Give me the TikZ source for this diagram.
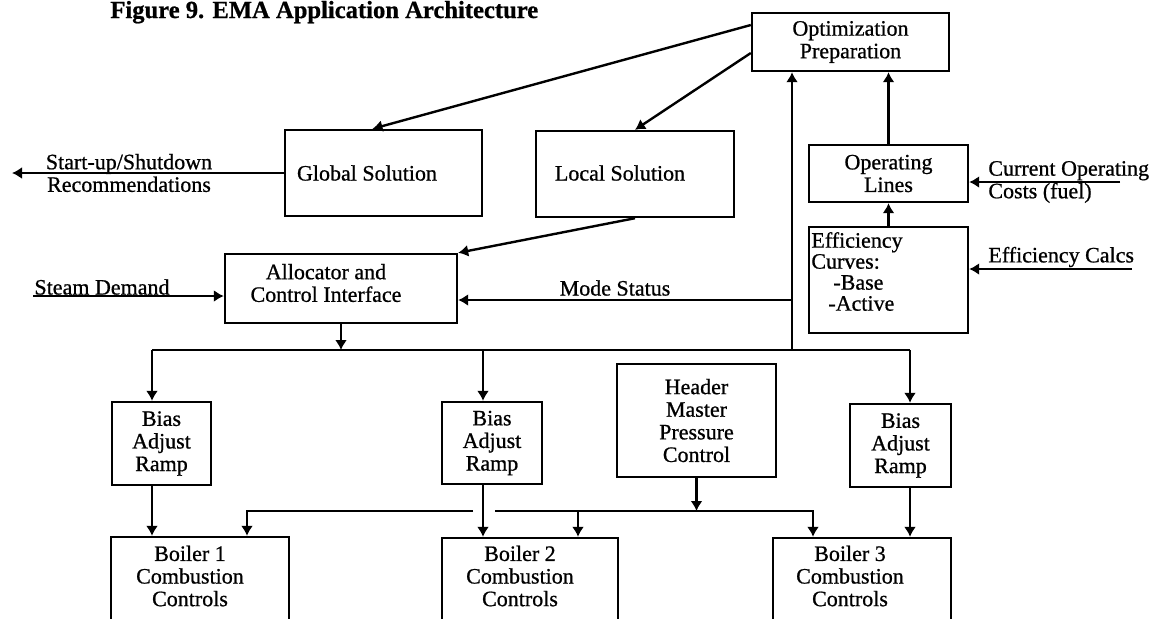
\documentclass[tikz,border=0pt]{standalone}
\usepackage{fontspec}
\setmainfont{Liberation Serif}[FakeBold=0.8]
\usetikzlibrary{arrows.meta}
\tikzset{
  blk/.style={draw,line width=1.2pt,inner sep=0pt},
  txt/.style={align=center,inner sep=0pt,font=\fontsize{11}{11.3}\selectfont},
  ln/.style={line width=1.2pt},
  arr/.style={line width=1.2pt,-{Latex[length=5pt,width=6pt]}}
}
\begin{document}
\begin{tikzpicture}[x=0.5pt,y=-0.5pt]
    \useasboundingbox (0,0) rectangle (1149,618);

    \node (title) at (110,18) [anchor=base west,inner sep=0pt,font=\fontsize{12.3}{13}\selectfont\bfseries] {Figure 9. EMA Application Architecture};

    \node (opt) at (850.5,42) [blk,txt,minimum width=98.5pt,minimum height=29pt] {Optimization\\Preparation};
    \node (oplines) at (888.5,173.5) [blk,txt,minimum width=79.5pt,minimum height=28.5pt] {Operating\\Lines};
    \node (eff) at (888.5,280) [blk,minimum width=79.5pt,minimum height=53pt] {};
    \node (effT) at (811,271.5) [txt,anchor=west,align=left,font=\fontsize{11}{10.5}\selectfont] {Efficiency\\Curves:\\\hspace*{11pt}-Base\\\hspace*{8.5pt}-Active};

    \node (glob) at (383.5,173) [blk,minimum width=98.5pt,minimum height=43pt] {};
    \node (globT) at (367,173) [txt] {Global Solution};
    \node (loc) at (635,174) [blk,minimum width=99pt,minimum height=43pt] {};
    \node (locT) at (620,173) [txt] {Local Solution};

    \node (alloc) at (341,288.5) [blk,minimum width=116pt,minimum height=34.5pt] {};
    \node (allocT) at (326,283) [txt] {Allocator and\\Control Interface};

    \node (bias1) at (161.5,443.5) [blk,txt,minimum width=49.5pt,minimum height=41.5pt] {Bias\\Adjust\\Ramp};
    \node (bias2) at (492,443) [blk,txt,minimum width=50pt,minimum height=41pt] {Bias\\Adjust\\Ramp};
    \node (bias3) at (900.5,445.5) [blk,txt,minimum width=50.5pt,minimum height=41.5pt] {Bias\\Adjust\\Ramp};
    \node (hdr) at (696.5,420.5) [blk,txt,minimum width=79.5pt,minimum height=56.5pt] {Header\\Master\\Pressure\\Control};

    \node (boil1) at (200,598.5) [blk,minimum width=89pt,minimum height=61.5pt] {};
    \node (boil1T) at (190,576) [txt] {Boiler 1\\Combustion\\Controls};
    \node (boil2) at (530,599) [blk,minimum width=88pt,minimum height=61pt] {};
    \node (boil2T) at (520,576) [txt] {Boiler 2\\Combustion\\Controls};
    \node (boil3) at (862,599) [blk,minimum width=89pt,minimum height=61pt] {};
    \node (boil3T) at (850,576) [txt] {Boiler 3\\Combustion\\Controls};

    \node (suT) at (129,173) [txt] {Start-up/Shutdown\\Recommendations};
    \node (sdT) at (102,287) [txt] {Steam Demand};
    \node (msT) at (615,288) [txt] {Mode Status};
    \node (cocT) at (988,182) [txt,anchor=west,align=left] {Current Operating\\Costs (fuel)};
    \node (ecT) at (988,257) [txt,anchor=west] {Efficiency Calcs};

    \coordinate (suEnd) at (12,173);
    \coordinate (sdBeg) at (33,296);
    \coordinate (busL) at (152,350);
    \coordinate (busR) at (910,350);
    \coordinate (d2) at (483,350);
    \coordinate (fb) at (792,350);
    \coordinate (ms) at (792,300);
    \coordinate (cocBeg) at (1120,182);
    \coordinate (ecBeg) at (1132,269);
    \coordinate (hbL) at (247,511);
    \coordinate (hbGapL) at (473,511);
    \coordinate (hbGapR) at (495,511);
    \coordinate (hb2) at (578,511);
    \coordinate (hbR) at (813,511);

    \draw[arr] ([yshift=8.5pt]opt.west) -- ([xshift=-5.5pt]glob.north);
    \draw[arr] ([yshift=-5.5pt]opt.west) -- (loc.north);
    \draw[arr] (loc.south) -- (alloc.north east);
    \draw[arr] (glob.west) -- (suEnd);
    \draw[arr] (sdBeg) -- (sdBeg -| alloc.west);
    \draw[arr] (alloc.south) -- (alloc.south |- busL);
    \draw[ln] (busL) -- (busR);
    \draw[arr] (busL) -- (busL |- bias1.north);
    \draw[arr] (d2) -- (d2 |- bias2.north);
    \draw[arr] (busR) -- (busR |- bias3.north);
    \draw[arr] (fb) -- (fb |- opt.south);
    \draw[arr] (ms) -- (ms -| alloc.east);
    \draw[arr] (oplines.north) -- (opt.south -| oplines.north);
    \draw[arr] (eff.north) -- (oplines.south);
    \draw[arr] (cocBeg) -- (cocBeg -| oplines.east);
    \draw[arr] (ecBeg) -- (ecBeg -| eff.east);
    \draw[arr] (busL |- bias1.south) -- (busL |- boil1.north);
    \draw[arr] (d2 |- bias2.south) -- (d2 |- boil2.north);
    \draw[arr] (busR |- bias3.south) -- (busR |- boil3.north);
    \draw[arr] (hdr.south) -- (hdr.south |- hbR);
    \draw[arr] (hbGapL) -- (hbL) -- (hbL |- boil1.north);
    \draw[arr] (hbGapR) -- (hbR) -- (hbR |- boil3.north);
    \draw[arr] (hb2) -- (hb2 |- boil2.north);
\end{tikzpicture}
\end{document}
